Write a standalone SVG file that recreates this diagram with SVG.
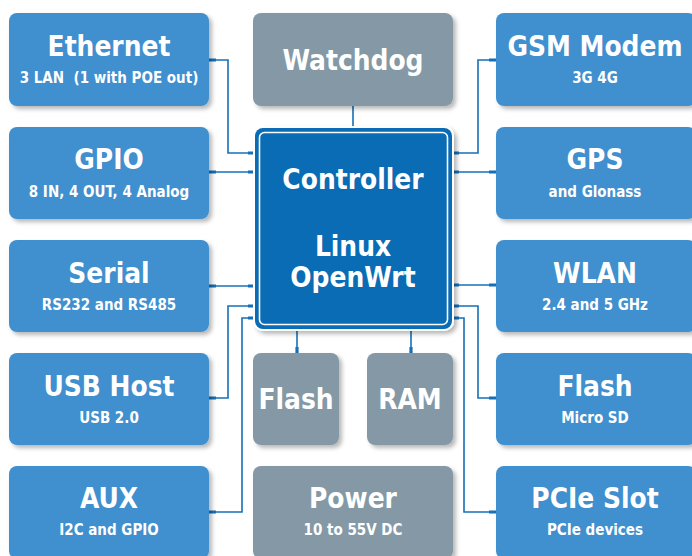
<svg xmlns="http://www.w3.org/2000/svg" width="692" height="556" viewBox="0 0 692 556">
<defs>
<filter id="sh" x="-10%" y="-10%" width="125%" height="130%">
<feDropShadow dx="3" dy="3" stdDeviation="2" flood-color="#000" flood-opacity="0.28"/>
</filter>
<style>
.b{fill:#3f8fce;filter:url(#sh)}
.g{fill:#8499a5;filter:url(#sh)}
text{font-family:"DejaVu Sans Condensed","DejaVu Sans",sans-serif;font-weight:bold;fill:#fff;text-anchor:middle;white-space:pre}
.t{font-size:27.8px}
.s{font-size:15px}
.w{fill:none;stroke:#1570b8;stroke-width:1.6}
.k{fill:none;stroke:#1570b8;stroke-width:3.2}
</style>
</defs>
<rect width="692" height="556" fill="#fff"/>
<g id="connectors">
<polyline class="w" points="209,60 228,60 228,153 255,153"/>
<polyline class="w" points="209,172 255,172"/>
<polyline class="w" points="353,106 353,128"/>
<polyline class="w" points="496,60 478,60 478,153 452,153"/>
<polyline class="w" points="452,172 496,172"/>
<polyline class="w" points="209,286 255,286"/>
<polyline class="w" points="209,398 228,398 228,306 255,306"/>
<polyline class="w" points="209,512 242,512 242,318 255,318"/>
<polyline class="w" points="452,285 496,285"/>
<polyline class="w" points="452,306 478,306 478,398 496,398"/>
<polyline class="w" points="452,318 464,318 464,512 496,512"/>
<polyline class="w" points="297,329 297,353"/>
<polyline class="w" points="411,329 411,353"/>
<path class="k" d="M209,60h7M209,172h7M209,286h7M209,398h7M209,512h7M248,153h7M248,172h7M248,286h7M248,306h7M248,318h7M489,60h7M489,172h7M489,285h7M489,398h7M489,512h7M452,153h7M452,172h7M452,285h7M452,306h7M452,318h7M353,100v6M297,347v6M411,347v6"/>
</g>
<g id="ethernet"><rect class="b" x="9" y="13" width="200" height="93" rx="8"/><text class="t" x="109" y="56">Ethernet</text><text class="s" x="109" y="83" xml:space="preserve">3 LAN  (1 with POE out)</text></g>
<g id="gpio"><rect class="b" x="9" y="127" width="200" height="92" rx="8"/><text class="t" x="109" y="169">GPIO</text><text class="s" x="109" y="197">8 IN, 4 OUT, 4 Analog</text></g>
<g id="serial"><rect class="b" x="9" y="240" width="200" height="92" rx="8"/><text class="t" x="109" y="283">Serial</text><text class="s" x="109" y="310">RS232 and RS485</text></g>
<g id="usbhost"><rect class="b" x="9" y="353" width="200" height="92" rx="8"/><text class="t" x="109" y="396">USB Host</text><text class="s" x="109" y="423">USB 2.0</text></g>
<g id="aux"><rect class="b" x="9" y="466" width="200" height="93" rx="8"/><text class="t" x="109" y="508">AUX</text><text class="s" x="109" y="535">I2C and GPIO</text></g>
<g id="watchdog"><rect class="g" x="253" y="13" width="200" height="93" rx="8"/><text class="t" x="353" y="70">Watchdog</text></g>
<g id="controller">
<rect x="253" y="126" width="201" height="205" rx="10" fill="#fff" filter="url(#sh)"/>
<rect x="255" y="128" width="197" height="201" rx="8" fill="#0a6cb4"/>
<rect x="259.5" y="132.5" width="188" height="192" rx="5" fill="#0a6cb4" stroke="#fff" stroke-width="1.6"/>
<text class="t" x="353" y="189">Controller</text>
<text class="t" x="353" y="256">Linux</text>
<text class="t" x="353" y="287">OpenWrt</text>
</g>
<g id="flash"><rect class="g" x="253" y="353" width="86" height="92" rx="8"/><text class="t" x="296" y="409">Flash</text></g>
<g id="ram"><rect class="g" x="367" y="353" width="86" height="92" rx="8"/><text class="t" x="410" y="409">RAM</text></g>
<g id="power"><rect class="g" x="253" y="466" width="200" height="93" rx="8"/><text class="t" x="353" y="508">Power</text><text class="s" x="353" y="535">10 to 55V DC</text></g>
<g id="gsm"><rect class="b" x="496" y="13" width="200" height="93" rx="8"/><text class="t" x="595" y="56">GSM Modem</text><text class="s" x="595" y="83">3G 4G</text></g>
<g id="gps"><rect class="b" x="496" y="127" width="200" height="92" rx="8"/><text class="t" x="595" y="169">GPS</text><text class="s" x="595" y="197">and Glonass</text></g>
<g id="wlan"><rect class="b" x="496" y="240" width="200" height="92" rx="8"/><text class="t" x="595" y="283">WLAN</text><text class="s" x="595" y="310">2.4 and 5 GHz</text></g>
<g id="microsd"><rect class="b" x="496" y="353" width="200" height="92" rx="8"/><text class="t" x="595" y="396">Flash</text><text class="s" x="595" y="423">Micro SD</text></g>
<g id="pcie"><rect class="b" x="496" y="466" width="200" height="93" rx="8"/><text class="t" x="595" y="508">PCIe Slot</text><text class="s" x="595" y="535">PCIe devices</text></g>
</svg>
